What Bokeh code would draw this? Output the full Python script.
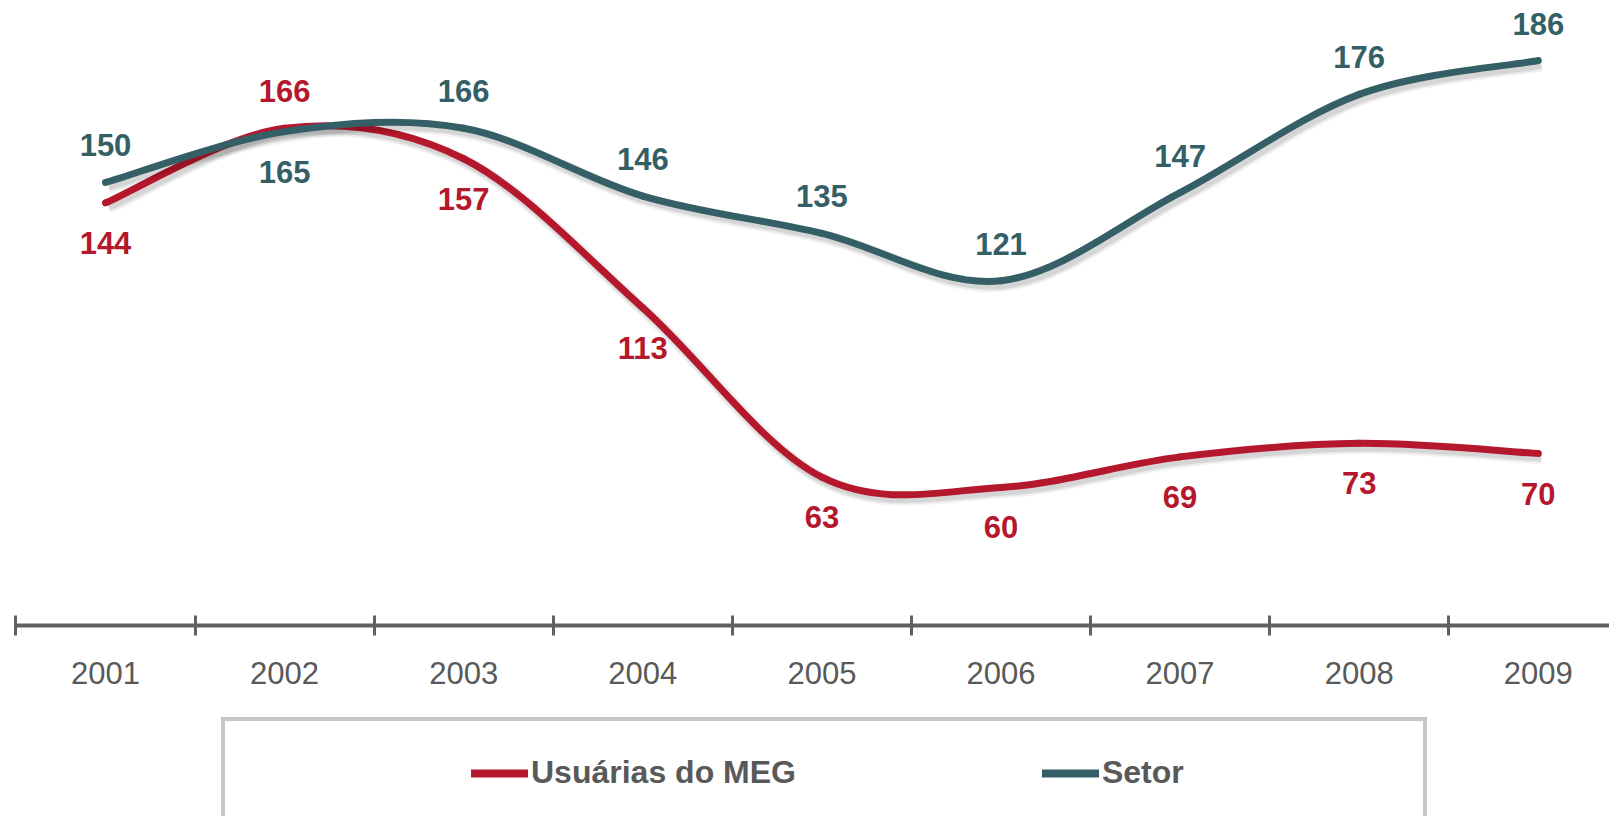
from bokeh.plotting import figure
from bokeh.layouts import column
from bokeh.models import Range1d, FixedTicker, ColumnDataSource, Legend, LegendItem
from bokeh.core.properties import value
from bokeh.embed import file_html
from bokeh.resources import INLINE

# ---------------- data ----------------
years = ["2001", "2002", "2003", "2004", "2005", "2006", "2007", "2008", "2009"]
meg = [144, 166, 157, 113, 63, 60, 69, 73, 70]
setor = [150, 165, 166, 146, 135, 121, 147, 176, 186]
series_names = ["Usuárias do MEG", "Setor"]
meg_label_side = ["below", "above", "below", "below", "below", "below", "below", "below", "below"]
setor_label_side = ["above", "below", "above", "above", "above", "above", "above", "above", "above"]

# ---------------- style ----------------
RED = "#B5172C"
TEAL = "#355F66"
TXT = "#595959"
AXIS = "#606060"
BOX = "#8E8E8E"
FONT = "Liberation Sans"

W = 1609
H_TOTAL = 816
H1 = 706                # main chart height
H2 = H_TOTAL - H1       # legend strip height
CAT_PX = 179.1          # pixels per category
X0_PX = 105.0           # first category centre (px)
FRAME_H = 625
PX_PER_UNIT = 3.388
TOP_VAL = 186 + 60 / PX_PER_UNIT
BOT_VAL = TOP_VAL - FRAME_H / PX_PER_UNIT

x_start = -X0_PX / CAT_PX
x_end = (W - X0_PX) / CAT_PX

p = figure(width=W, height=H1, output_backend="svg", toolbar_location=None,
           x_range=Range1d(x_start, x_end), y_range=Range1d(BOT_VAL, TOP_VAL),
           y_axis_location=None, min_border_left=0, min_border_right=0,
           min_border_top=0, min_border_bottom=H1 - FRAME_H)
p.outline_line_color = None
p.grid.visible = False
p.background_fill_color = "white"
p.border_fill_color = "white"

# shadow ranges (offset a few pixels right / down)
sdx = 3 / CAT_PX
sdy = 4 / PX_PER_UNIT
p.extra_x_ranges = {"sx": Range1d(x_start - sdx, x_end - sdx)}
p.extra_y_ranges = {"sy": Range1d(BOT_VAL + sdy, TOP_VAL + sdy)}


def smooth_segments(vals):
    xs = list(range(len(vals)))
    pts = list(zip(xs, vals))
    n = len(pts)
    d = {k: [] for k in ("x0", "y0", "x1", "y1", "cx0", "cy0", "cx1", "cy1")}
    for i in range(n - 1):
        a = pts[i - 1] if i > 0 else pts[i]
        b = pts[i]
        c = pts[i + 1]
        e = pts[i + 2] if i + 2 < n else pts[i + 1]
        d["x0"].append(b[0]); d["y0"].append(b[1])
        d["x1"].append(c[0]); d["y1"].append(c[1])
        d["cx0"].append(b[0] + (c[0] - a[0]) / 6); d["cy0"].append(b[1] + (c[1] - a[1]) / 6)
        d["cx1"].append(c[0] - (e[0] - b[0]) / 6); d["cy1"].append(c[1] - (e[1] - b[1]) / 6)
    return ColumnDataSource(d)


for vals, col in ((meg, RED), (setor, TEAL)):
    src = smooth_segments(vals)
    for w, a in ((14, 0.04), (11, 0.05), (8, 0.08)):
        p.bezier(x0="x0", y0="y0", x1="x1", y1="y1", cx0="cx0", cy0="cy0",
                 cx1="cx1", cy1="cy1", source=src, line_color="black", line_alpha=a,
                 line_width=w, line_cap="butt", x_range_name="sx", y_range_name="sy")
    p.bezier(x0="x0", y0="y0", x1="x1", y1="y1", cx0="cx0", cy0="cy0",
             cx1="cx1", cy1="cy1", source=src, line_color=col, line_width=7,
             line_cap="round")

# data labels
for vals, sides, col in ((meg, meg_label_side, RED), (setor, setor_label_side, TEAL)):
    src = ColumnDataSource(dict(x=list(range(len(vals))), y=vals,
                                t=[str(v) for v in vals],
                                off=[-37 if s == "above" else 40 for s in sides]))
    p.text(x="x", y="y", text="t", y_offset="off", source=src,
           text_font=value(FONT), text_font_style="bold", text_font_size="31px",
           text_color=col, text_align="center", text_baseline="middle")

# x axis
ax = p.xaxis[0]
ax.ticker = FixedTicker(ticks=list(range(len(years))),
                        minor_ticks=[i - 0.5 for i in range(len(years) + 1)])
ax.major_label_overrides = {i: y for i, y in enumerate(years)}
ax.bounds = (-0.5000001, x_end)
ax.axis_line_color = AXIS
ax.axis_line_width = 4
ax.major_tick_line_color = None
ax.major_tick_in = 0
ax.major_tick_out = 0
ax.minor_tick_line_color = AXIS
ax.minor_tick_line_width = 3
ax.minor_tick_in = 10
ax.minor_tick_out = 10
ax.major_label_standoff = 26
ax.major_label_text_font = FONT
ax.major_label_text_font_size = "31px"
ax.major_label_text_color = TXT

# ---------------- legend strip ----------------
q = figure(width=W, height=H2, output_backend="svg", toolbar_location=None,
           x_range=Range1d(0, 1), y_range=Range1d(0, 1),
           x_axis_location=None, y_axis_location=None,
           min_border_left=0, min_border_right=0, min_border_top=0, min_border_bottom=0)
q.outline_line_color = None
q.grid.visible = False
q.background_fill_color = "white"
q.border_fill_color = "white"

nan = float("nan")
BOX_LEFT, BOX_RIGHT, BOX_TOP = 221, 1419, 717
BOX_H = 200
dummy_box = q.line(x=[nan], y=[nan], line_alpha=0)
box_legend = Legend(items=[LegendItem(label=" ", renderers=[dummy_box])],
                    location=(BOX_LEFT, H2 - (BOX_TOP - H1) - BOX_H - 8),
                    orientation="horizontal", padding=0, margin=0,
                    spacing=0, glyph_width=BOX_RIGHT - BOX_LEFT, glyph_height=BOX_H,
                    label_standoff=0, label_width=0, label_height=0,
                    label_text_font_size="1px",
                    border_line_color=BOX, border_line_width=4, background_fill_alpha=0)
q.add_layout(box_legend)

ITEM_Y = 773
ITEM_H = 36
meg_dummy = q.line(x=[nan, nan], y=[nan, nan], line_color=RED, line_width=8, line_cap="round")
setor_dummy = q.line(x=[nan, nan], y=[nan, nan], line_color=TEAL, line_width=8, line_cap="round")
item_legend = Legend(items=[LegendItem(label=series_names[0], renderers=[meg_dummy]),
                            LegendItem(label=series_names[1], renderers=[setor_dummy])],
                     location=(471, H2 - (ITEM_Y - H1) - ITEM_H / 2),
                     orientation="horizontal", padding=0, margin=0,
                     spacing=246, glyph_width=57, glyph_height=ITEM_H, label_height=ITEM_H,
                     label_standoff=3, label_text_font=FONT, label_text_font_style="bold",
                     label_text_font_size="32px", label_text_color=TXT,
                     border_line_color=None, background_fill_alpha=0)
q.add_layout(item_legend)

layout = column(p, q, spacing=0)
open("out.html", "w").write(file_html(layout, INLINE))
